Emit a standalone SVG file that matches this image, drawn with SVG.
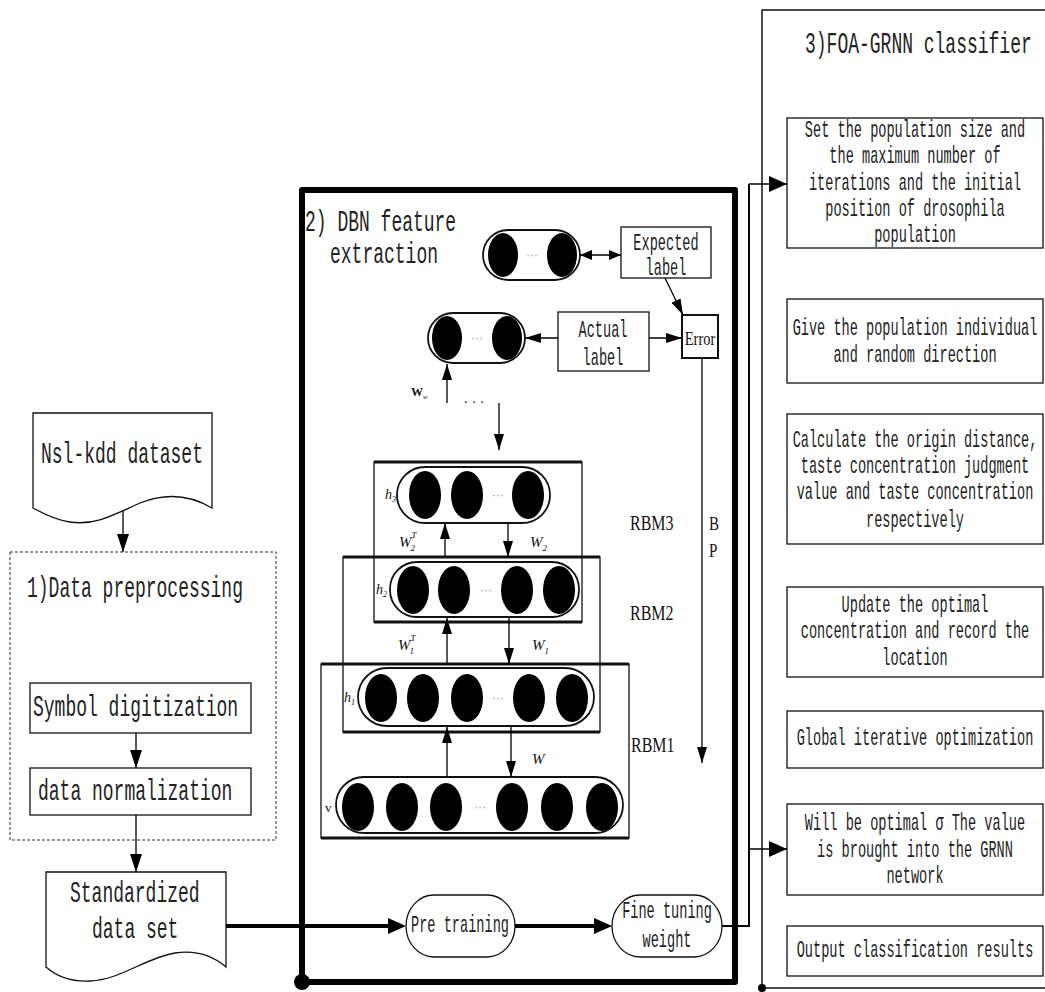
<svg xmlns="http://www.w3.org/2000/svg" width="1045" height="992" viewBox="0 0 1045 992">
<defs>
<style>
.t{font-family:"Liberation Mono","DejaVu Sans Mono",monospace;fill:#222}
.s{font-size:13.6px}
.b{font-size:18px}
.m{text-anchor:middle}
.r{font-family:"Liberation Serif","Times New Roman",serif;fill:#111}
.i{font-style:italic}
.box{fill:#fff;stroke:#111;stroke-width:1.3}
.pill{fill:#fff;stroke:#111;stroke-width:1.8}
.rbm{fill:none;stroke:#111;stroke-width:1.3}
.top{stroke:#111;stroke-width:3}
.n{fill:#000}
.ln{fill:none;stroke:#000;stroke-width:1.3}
.thick{fill:none;stroke:#000;stroke-width:4}
.dots{font-family:"Liberation Sans",sans-serif;font-size:12px;fill:#999;text-anchor:middle}
</style>
<marker id="ah" viewBox="0 0 16 10" refX="16" refY="5" markerWidth="16" markerHeight="10" markerUnits="userSpaceOnUse" orient="auto"><path d="M0,0 L16,5 L0,10 z" fill="#000"/></marker>
<marker id="aN" viewBox="0 0 18 12" refX="18" refY="6" markerWidth="18" markerHeight="12" markerUnits="userSpaceOnUse" orient="auto"><path d="M0,0 L18,6 L0,12 z" fill="#000"/></marker>
<marker id="aL" viewBox="0 0 18 16" refX="18" refY="8" markerWidth="18" markerHeight="16" markerUnits="userSpaceOnUse" orient="auto"><path d="M0,0 L18,8 L0,16 z" fill="#000"/></marker>
<marker id="aT" viewBox="0 0 18 16" refX="2" refY="8" markerWidth="18" markerHeight="16" markerUnits="userSpaceOnUse" orient="auto"><path d="M0,0 L18,8 L0,16 z" fill="#000"/></marker>
<marker id="aS" viewBox="0 0 12 10" refX="12" refY="5" markerWidth="12" markerHeight="10" markerUnits="userSpaceOnUse" orient="auto-start-reverse"><path d="M0,0 L12,5 L0,10 z" fill="#000"/></marker>
</defs>
<rect width="1045" height="992" fill="#fff"/>

<g id="foa-grnn-frame">
<path d="M1045,10 H762 V988 H1045" fill="none" stroke="#111" stroke-width="1.5"/>
<circle cx="762" cy="988" r="4" fill="#000"/>
<text class="t b" transform="translate(805,53) scale(1,1.65)">3)FOA-GRNN classifier</text>
</g>

<g id="foa1">
<rect class="box" x="787" y="118" width="256" height="130"/>
<text class="t s m" transform="translate(915,137) scale(1,1.75)">Set the population size and</text>
<text class="t s m" transform="translate(915,163) scale(1,1.75)">the maximum number of</text>
<text class="t s m" transform="translate(915,190) scale(1,1.75)">iterations and the initial</text>
<text class="t s m" transform="translate(915,216) scale(1,1.75)">position of drosophila</text>
<text class="t s m" transform="translate(915,242) scale(1,1.75)">population</text>
</g>
<g id="foa2">
<rect class="box" x="787" y="299" width="256" height="84"/>
<text class="t s m" transform="translate(915,335) scale(1,1.75)">Give the population individual</text>
<text class="t s m" transform="translate(915,362) scale(1,1.75)">and random direction</text>
</g>
<g id="foa3">
<rect class="box" x="787" y="414" width="256" height="130"/>
<text class="t s m" transform="translate(915,447) scale(1,1.75)">Calculate the origin distance,</text>
<text class="t s m" transform="translate(915,473) scale(1,1.75)">taste concentration judgment</text>
<text class="t s m" transform="translate(915,499) scale(1,1.75)">value and taste concentration</text>
<text class="t s m" transform="translate(915,527) scale(1,1.75)">respectively</text>
</g>
<g id="foa4">
<rect class="box" x="787" y="587" width="256" height="90"/>
<text class="t s m" transform="translate(915,612) scale(1,1.75)">Update the optimal</text>
<text class="t s m" transform="translate(915,638) scale(1,1.75)">concentration and record the</text>
<text class="t s m" transform="translate(915,665) scale(1,1.75)">location</text>
</g>
<g id="foa5">
<rect class="box" x="787" y="711" width="256" height="57"/>
<text class="t s m" transform="translate(915,745) scale(1,1.75)">Global iterative optimization</text>
</g>
<g id="foa6">
<rect class="box" x="787" y="804" width="256" height="91"/>
<text class="t s m" transform="translate(915,830) scale(1,1.75)">Will be optimal σ The value</text>
<text class="t s m" transform="translate(915,857) scale(1,1.75)">is brought into the GRNN</text>
<text class="t s m" transform="translate(915,883) scale(1,1.75)">network</text>
</g>
<g id="foa7">
<rect class="box" x="787" y="926" width="256" height="50"/>
<text class="t s m" transform="translate(915,957) scale(1,1.75)">Output classification results</text>
</g>

<g id="nslkdd">
<path class="box" d="M33,413 H212 V508 C190,495 165,493 140,503 C115,514 95,526 70,522 C55,520 42,513 33,508 Z"/>
<text class="t b" transform="translate(41,463) scale(1,1.65)">Nsl-kdd dataset</text>
</g>
<g id="preprocessing">
<rect x="10" y="552" width="266" height="288" fill="none" stroke="#333" stroke-width="1" stroke-dasharray="3,2"/>
<text class="t b" transform="translate(27,597) scale(1,1.65)">1)Data preprocessing</text>
</g>
<g id="symbol">
<rect class="box" x="30" y="683" width="221" height="50"/>
<text class="t b" transform="translate(33,716) scale(1,1.65)">Symbol digitization</text>
</g>
<g id="normalization">
<rect class="box" x="30" y="768" width="221" height="47"/>
<text class="t b" transform="translate(38,800) scale(1,1.65)">data normalization</text>
</g>
<g id="standardized">
<path class="box" d="M46,872 H226 V967 C212,955 195,950 175,953 C145,958 120,980 90,981 C70,982 55,975 46,967 Z"/>
<text class="t b" transform="translate(70,902) scale(1,1.65)">Standardized</text>
<text class="t b" transform="translate(92,938) scale(1,1.65)">data set</text>
</g>

<g id="dbn-frame">
<path d="M302,982 V190 H735 V982 Z" fill="none" stroke="#000" stroke-width="6" stroke-linejoin="round"/>
<circle cx="302" cy="982" r="8" fill="#000"/>
<text class="t b" transform="translate(305,231) scale(1,1.65)">2) DBN feature</text>
<text class="t b" transform="translate(330,263) scale(1,1.65)">extraction</text>
</g>

<g id="output-layer">
<rect class="pill" x="483" y="230" width="97" height="50" rx="25"/>
<ellipse class="n" cx="503" cy="255" rx="15" ry="22"/>
<ellipse class="n" cx="562" cy="255" rx="15" ry="22"/>
<text class="dots" x="532" y="259">···</text>
</g>
<g id="expected-label">
<rect class="box" x="621" y="227" width="90" height="51"/>
<text class="t s m" transform="translate(666,250) scale(1,1.75)">Expected</text>
<text class="t s m" transform="translate(666,275) scale(1,1.75)">label</text>
</g>
<g id="top-layer">
<rect class="pill" x="428" y="313" width="97" height="50" rx="25"/>
<ellipse class="n" cx="447" cy="338" rx="15" ry="22"/>
<ellipse class="n" cx="507" cy="338" rx="15" ry="22"/>
<text class="dots" x="477" y="342">···</text>
</g>
<g id="actual-label">
<rect class="box" x="558" y="312" width="91" height="59"/>
<text class="t s m" transform="translate(603,337) scale(1,1.75)">Actual</text>
<text class="t s m" transform="translate(603,365) scale(1,1.75)">label</text>
</g>
<g id="error">
<rect x="682" y="315" width="36" height="43" fill="#fff" stroke="#111" stroke-width="2"/>
<text class="r" transform="translate(700,345) scale(1,1.3)" font-size="14.5" text-anchor="middle">Error</text>
</g>

<g id="rbm-frames">
<rect class="rbm" x="374" y="462" width="208" height="160"/>
<rect class="rbm" x="343" y="557" width="257" height="175"/>
<rect class="rbm" x="321" y="664" width="308" height="174"/>
<line class="top" x1="374" y1="462" x2="582" y2="462"/>
<line class="top" x1="343" y1="557" x2="600" y2="557"/>
<line class="top" x1="321" y1="664" x2="629" y2="664"/>
<line class="top" x1="374" y1="622" x2="582" y2="622"/>
<line class="top" x1="343" y1="732" x2="600" y2="732"/>
<line class="top" x1="321" y1="838" x2="629" y2="838"/>
</g>
<g id="h3">
<rect class="pill" x="397" y="467" width="153" height="56" rx="28"/>
<ellipse class="n" cx="425" cy="495" rx="16" ry="24"/>
<ellipse class="n" cx="467" cy="495" rx="16" ry="24"/>
<ellipse class="n" cx="528" cy="495" rx="16" ry="24"/>
<text class="dots" x="498" y="499">···</text>
<text class="r i" x="385" y="499" font-size="14">h<tspan font-size="8" dy="3">3</tspan></text>
</g>
<g id="h2">
<rect class="pill" x="390" y="562" width="189" height="55" rx="27"/>
<ellipse class="n" cx="413" cy="590" rx="16" ry="24"/>
<ellipse class="n" cx="454" cy="590" rx="16" ry="24"/>
<ellipse class="n" cx="517" cy="590" rx="16" ry="24"/>
<ellipse class="n" cx="559" cy="590" rx="16" ry="24"/>
<text class="dots" x="486" y="594">···</text>
<text class="r i" x="376" y="594" font-size="14">h<tspan font-size="8" dy="3">2</tspan></text>
</g>
<g id="h1">
<rect class="pill" x="358" y="668" width="236" height="58" rx="29"/>
<ellipse class="n" cx="381" cy="698" rx="16" ry="24"/>
<ellipse class="n" cx="423" cy="698" rx="16" ry="24"/>
<ellipse class="n" cx="467" cy="698" rx="16" ry="24"/>
<ellipse class="n" cx="529" cy="698" rx="16" ry="24"/>
<ellipse class="n" cx="572" cy="698" rx="16" ry="24"/>
<text class="dots" x="498" y="702">···</text>
<text class="r i" x="344" y="702" font-size="14">h<tspan font-size="8" dy="3">1</tspan></text>
</g>
<g id="v">
<rect class="pill" x="336" y="777" width="287" height="56" rx="28"/>
<ellipse class="n" cx="358" cy="807" rx="16" ry="24"/>
<ellipse class="n" cx="402" cy="807" rx="16" ry="24"/>
<ellipse class="n" cx="446" cy="807" rx="16" ry="24"/>
<ellipse class="n" cx="512" cy="807" rx="16" ry="24"/>
<ellipse class="n" cx="557" cy="807" rx="16" ry="24"/>
<ellipse class="n" cx="602" cy="807" rx="16" ry="24"/>
<text class="dots" x="480" y="811">···</text>
<text class="r" x="325" y="812" font-size="13">v</text>
</g>
<g id="rbm-labels">
<text class="r" transform="translate(630,530) scale(1,1.3)" font-size="16">RBM3</text>
<text class="r" transform="translate(630,620) scale(1,1.3)" font-size="16">RBM2</text>
<text class="r" transform="translate(631,752) scale(1,1.3)" font-size="16">RBM1</text>
<text class="r" transform="translate(709,530) scale(1,1.3)" font-size="15">B</text>
<text class="r" transform="translate(709,557) scale(1,1.3)" font-size="15">P</text>
<text class="r i" x="399" y="547" font-size="15">W<tspan font-size="9" dy="-9">T</tspan><tspan font-size="9" dx="-6" dy="13">2</tspan></text>
<text class="r i" x="530" y="547" font-size="15">W<tspan font-size="9" dy="4">2</tspan></text>
<text class="r i" x="398" y="650" font-size="15">W<tspan font-size="9" dy="-9">T</tspan><tspan font-size="9" dx="-6" dy="13">1</tspan></text>
<text class="r i" x="532" y="650" font-size="15">W<tspan font-size="9" dy="4">1</tspan></text>
<text class="r i" x="532" y="764" font-size="15">W</text>
<text class="r" x="411" y="396" font-size="12" font-weight="bold">W<tspan font-style="italic" font-weight="normal" font-size="7" dy="3">w</tspan></text>
<text class="r" x="474" y="407" font-size="14" text-anchor="middle" fill="#444">· · ·</text>
</g>

<g id="pretrain">
<rect class="box" x="406" y="895" width="109" height="62" rx="28" ry="31"/>
<text class="t s m" transform="translate(460,932) scale(1,1.75)">Pre training</text>
</g>
<g id="finetune">
<rect class="box" x="612" y="895" width="110" height="62" rx="28" ry="31"/>
<text class="t s m" transform="translate(667,918) scale(1,1.75)">Fine tuning</text>
<text class="t s m" transform="translate(667,947) scale(1,1.75)">weight</text>
</g>

<g id="connectors">
<line class="ln" x1="123" y1="511" x2="123" y2="552" marker-end="url(#aN)"/>
<line class="ln" x1="136" y1="733" x2="136" y2="768" marker-end="url(#aN)"/>
<line class="ln" x1="136" y1="815" x2="136" y2="872" marker-end="url(#aN)"/>
<line class="thick" x1="226" y1="926" x2="390" y2="926" marker-end="url(#aT)"/>
<line class="thick" x1="515" y1="926" x2="596" y2="926" marker-end="url(#aT)"/>
<path d="M722,926 H749 V184" fill="none" stroke="#000" stroke-width="2"/>
<line class="ln" x1="749" y1="184" x2="787" y2="184" marker-end="url(#aL)"/>
<line class="ln" x1="749" y1="849" x2="787" y2="849" marker-end="url(#aL)"/>
<line class="ln" x1="580" y1="255" x2="621" y2="255" stroke-width="2" marker-start="url(#aS)" marker-end="url(#aS)"/>
<line class="ln" x1="665" y1="278" x2="683" y2="315" marker-end="url(#ah)"/>
<line class="ln" x1="558" y1="338" x2="525" y2="338" marker-end="url(#ah)"/>
<line class="ln" x1="649" y1="338" x2="682" y2="338" marker-end="url(#ah)"/>
<line class="ln" x1="702" y1="358" x2="702" y2="763" marker-end="url(#ah)"/>
<line class="ln" x1="447" y1="403" x2="447" y2="364" marker-end="url(#ah)"/>
<line class="ln" x1="499" y1="403" x2="499" y2="450" marker-end="url(#ah)"/>
<line class="ln" x1="445" y1="557" x2="445" y2="523" marker-end="url(#ah)"/>
<line class="ln" x1="508" y1="524" x2="508" y2="557" marker-end="url(#ah)"/>
<line class="ln" x1="447" y1="664" x2="447" y2="618" marker-end="url(#ah)"/>
<line class="ln" x1="509" y1="618" x2="509" y2="664" marker-end="url(#ah)"/>
<line class="ln" x1="447" y1="777" x2="447" y2="727" marker-end="url(#ah)"/>
<line class="ln" x1="511" y1="727" x2="511" y2="777" marker-end="url(#ah)"/>
</g>
</svg>
